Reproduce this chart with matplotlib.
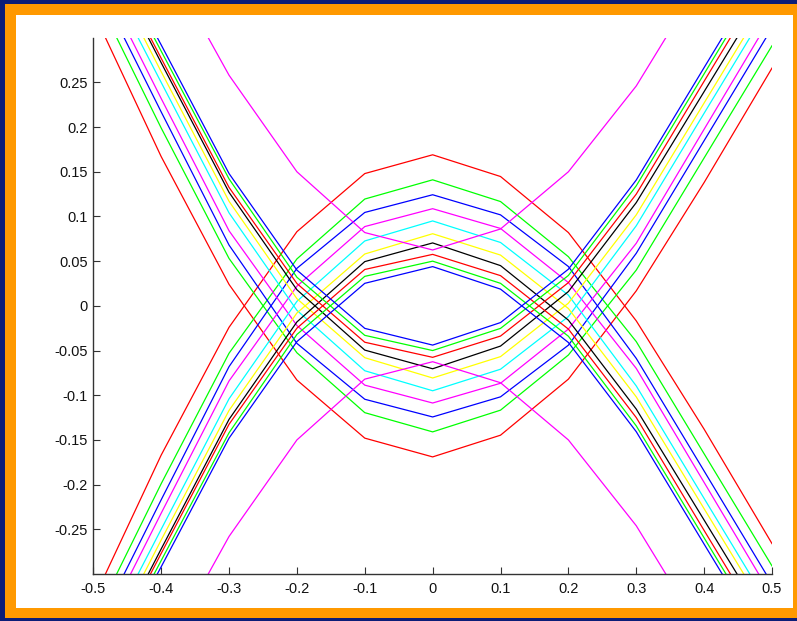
import numpy as np
import matplotlib.pyplot as plt
from matplotlib.patches import Rectangle

plt.rcParams['font.family'] = ['Liberation Sans', 'DejaVu Sans']

x = [-0.5, -0.4, -0.3, -0.2, -0.1, 0.0, 0.1, 0.2, 0.3, 0.4, 0.5]

# upper branches (the lower branches are the mirror image, y -> -y)
red1 = [-0.329, -0.167, -0.024, 0.083, 0.148, 0.169, 0.1447, 0.082, -0.0168, -0.138, -0.266]
green1 = [-0.353, -0.199, -0.053, 0.0525, 0.1195, 0.141, 0.1167, 0.055, -0.040, -0.1655, -0.291]
blue1 = [-0.369, -0.217, -0.068, 0.042, 0.1045, 0.1243, 0.1018, 0.044, -0.0588, -0.1848, -0.311]
mag1 = [-0.383, -0.232, -0.084, 0.022, 0.0887, 0.1087, 0.0866, 0.026, -0.070, -0.1976, -0.325]
cyan1 = [-0.397, -0.250, -0.104, 0.005, 0.0726, 0.095, 0.0709, 0.012, -0.0896, -0.2155, -0.341]
yel1 = [-0.410, -0.262, -0.117, -0.008, 0.058, 0.0807, 0.0568, -0.003, -0.1018, -0.227, -0.352]
blk1 = [-0.419, -0.272, -0.127, -0.018, 0.0495, 0.0704, 0.045, -0.016, -0.1155, -0.2397, -0.364]
red2 = [-0.423, -0.277, -0.1325, -0.025, 0.0407, 0.0576, 0.0338, -0.026, -0.125, -0.2513, -0.377]
green2 = [-0.429, -0.285, -0.142, -0.032, 0.033, 0.050, 0.0252, -0.034, -0.1343, -0.2596, -0.385]
blue2 = [-0.433, -0.292, -0.148, -0.040, 0.0252, 0.0439, 0.0187, -0.041, -0.1408, -0.2666, -0.392]
mag2 = [-0.530, -0.395, -0.258, -0.150, -0.082, -0.0625, -0.086, -0.150, -0.246, -0.370, -0.490]

curves = [red1, green1, blue1, mag1, cyan1, yel1, blk1, red2, green2, blue2, mag2]
colors = ['r', 'lime', 'b', 'magenta', 'cyan', 'yellow', 'k', 'r', 'lime', 'b', 'magenta']

xticks = [-0.5, -0.4, -0.3, -0.2, -0.1, 0.0, 0.1, 0.2, 0.3, 0.4, 0.5]
xlabels = ['-0.5', '-0.4', '-0.3', '-0.2', '-0.1', '0', '0.1', '0.2', '0.3', '0.4', '0.5']
yticks = [-0.25, -0.2, -0.15, -0.1, -0.05, 0.0, 0.05, 0.1, 0.15, 0.2, 0.25]
ylabels = ['-0.25', '-0.2', '-0.15', '-0.1', '-0.05', '0', '0.05', '0.1', '0.15', '0.2', '0.25']

W, H = 797, 621
fig = plt.figure(figsize=(W / 100, H / 100), dpi=100)
fig.patch.set_facecolor('#0b1d78')
# orange frame and white slide area
fig.patches.append(Rectangle((5 / W, 3 / H), 792 / W, 614 / H, transform=fig.transFigure,
                             facecolor='#ff9900', edgecolor='none', zorder=-2))
fig.patches.append(Rectangle((16 / W, 13 / H), 777 / W, 593 / H, transform=fig.transFigure,
                             facecolor='white', edgecolor='none', zorder=-1))

ax = fig.add_axes([93.3 / W, 47 / H, 678.7 / W, 536.3 / H])
ax.set_zorder(5)
ax.set_facecolor('white')

for y, c in zip(curves, colors):
    y = np.array(y)
    ax.plot(x, y, color=c, lw=0.9)
    ax.plot(x, -y, color=c, lw=0.9)

ax.set_xlim(-0.5, 0.5)
ax.set_ylim(-0.3, 0.3)
ax.set_xticks(xticks)
ax.set_xticklabels(xlabels)
ax.set_yticks(yticks)
ax.set_yticklabels(ylabels)
ax.spines['top'].set_visible(False)
ax.spines['right'].set_visible(False)
for s in ['left', 'bottom']:
    ax.spines[s].set_color('#333333')
    ax.spines[s].set_linewidth(1.0)
ax.tick_params(direction='in', length=5, width=0.8, color='#333333',
               labelsize=10.5, labelcolor='#111111')
ax.tick_params(axis='x', pad=6)
ax.tick_params(axis='y', pad=4)

fig.savefig('out.png', dpi=100, facecolor=fig.get_facecolor())
